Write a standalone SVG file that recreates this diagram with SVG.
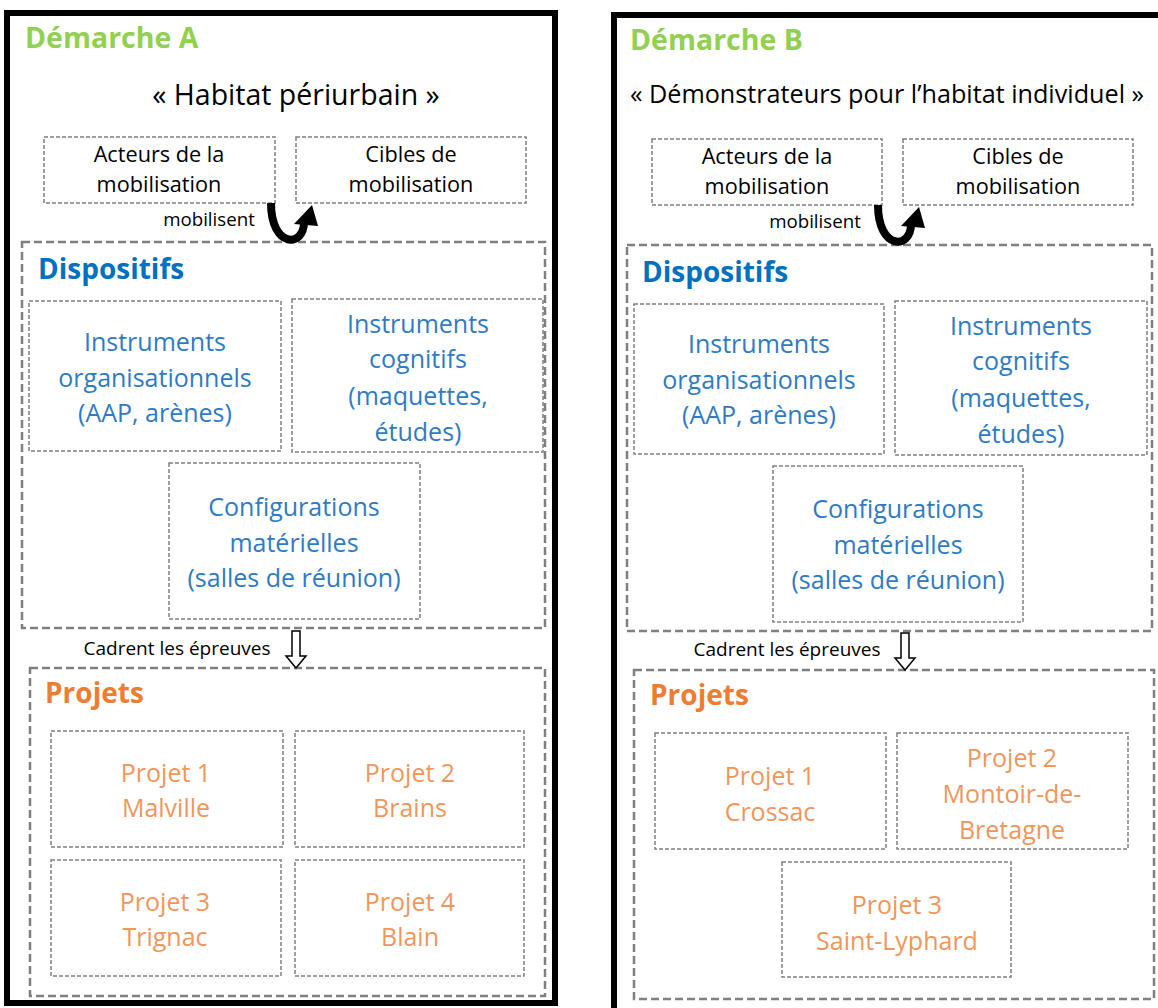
<svg xmlns="http://www.w3.org/2000/svg" width="1158" height="1008" viewBox="0 0 1158 1008">
<style>
text{font-family:"Open Sans","Noto Sans","Liberation Sans",sans-serif;text-anchor:middle}
.frame{fill:none;stroke:#000;stroke-width:6}
.big{fill:none;stroke:#7f7f7f;stroke-width:2.5;stroke-dasharray:8 4}
.small{fill:none;stroke:#7f7f7f;stroke-width:1.5;stroke-dasharray:4 2}
.ttl{fill:#92d050;font-weight:bold;font-size:28.5px;text-anchor:start}
.sub{fill:#000;font-size:28.5px}
.subB{fill:#000;font-size:25.2px}
.act{fill:#000;font-size:21.7px}
.lbl{fill:#000;font-size:19px}
.lblm{fill:#000;font-size:18.7px}
.dh{fill:#0070c0;font-weight:bold;font-size:28px;text-anchor:start}
.dt{fill:#2e7bc4;font-size:25px}
.ph{fill:#ed7d31;font-weight:bold;font-size:28px;text-anchor:start}
.pt{fill:#f0965a;font-size:25px}
.curve{fill:none;stroke:#000;stroke-width:8}
.hollow{fill:#fff;stroke:#000;stroke-width:1.5}
</style>
<rect width="1158" height="1008" fill="#fff"/>

<g id="demarcheA">
<rect class="frame" x="7" y="13" width="548" height="990"/>
<text class="ttl" x="25" y="48">Démarche A</text>
<text class="sub" x="296" y="105">« Habitat périurbain »</text>
</g>
<g id="acteursA"><rect class="small" x="44" y="137" width="231" height="66"/><text class="act" x="159" y="162">Acteurs de la</text><text class="act" x="159" y="192">mobilisation</text></g>
<g id="ciblesA"><rect class="small" x="296" y="137" width="230" height="66"/><text class="act" x="411" y="162">Cibles de</text><text class="act" x="411" y="192">mobilisation</text></g>
<g id="dispositifsA"><rect class="big" x="22" y="242" width="523" height="386"/><text class="dh" x="38" y="279">Dispositifs</text></g>
<g id="instOrgA"><rect class="small" x="29" y="301" width="252" height="150"/><text class="dt" x="155" y="351">Instruments</text><text class="dt" x="155" y="387">organisationnels</text><text class="dt" x="155" y="422">(AAP, arènes)</text></g>
<g id="instCogA"><rect class="small" x="292" y="299" width="251" height="153"/><text class="dt" x="418" y="333">Instruments</text><text class="dt" x="418" y="368">cognitifs</text><text class="dt" x="418" y="405">(maquettes,</text><text class="dt" x="418" y="441">études)</text></g>
<g id="configA"><rect class="small" x="169" y="463" width="251" height="156"/><text class="dt" x="294" y="516">Configurations</text><text class="dt" x="294" y="552">matérielles</text><text class="dt" x="294" y="587">(salles de réunion)</text></g>
<g id="projetsA"><rect class="big" x="30" y="668" width="515" height="328"/><text class="ph" x="45" y="703">Projets</text></g>
<g id="p1A"><rect class="small" x="51" y="731" width="232" height="116"/><text class="pt" x="166" y="782">Projet 1</text><text class="pt" x="166" y="817">Malville</text></g>
<g id="p2A"><rect class="small" x="295" y="731" width="229" height="116"/><text class="pt" x="410" y="782">Projet 2</text><text class="pt" x="410" y="817">Brains</text></g>
<g id="p3A"><rect class="small" x="51" y="860" width="230" height="116"/><text class="pt" x="165" y="911">Projet 3</text><text class="pt" x="165" y="946">Trignac</text></g>
<g id="p4A"><rect class="small" x="295" y="860" width="229" height="116"/><text class="pt" x="410" y="911">Projet 4</text><text class="pt" x="410" y="946">Blain</text></g>

<g id="demarcheB">
<rect class="frame" x="614" y="15" width="560" height="1000"/>
<text class="ttl" x="630" y="50">Démarche B</text>
<text class="subB" x="887" y="103">« Démonstrateurs pour l’habitat individuel »</text>
</g>
<g id="acteursB"><rect class="small" x="652" y="139" width="230" height="66"/><text class="act" x="767" y="164">Acteurs de la</text><text class="act" x="767" y="194">mobilisation</text></g>
<g id="ciblesB"><rect class="small" x="903" y="139" width="230" height="66"/><text class="act" x="1018" y="164">Cibles de</text><text class="act" x="1018" y="194">mobilisation</text></g>
<g id="dispositifsB"><rect class="big" x="627" y="245" width="525" height="386"/><text class="dh" x="642" y="282">Dispositifs</text></g>
<g id="instOrgB"><rect class="small" x="634" y="304" width="250" height="150"/><text class="dt" x="759" y="353">Instruments</text><text class="dt" x="759" y="389">organisationnels</text><text class="dt" x="759" y="424">(AAP, arènes)</text></g>
<g id="instCogB"><rect class="small" x="895" y="301" width="252" height="154"/><text class="dt" x="1021" y="335">Instruments</text><text class="dt" x="1021" y="370">cognitifs</text><text class="dt" x="1021" y="407">(maquettes,</text><text class="dt" x="1021" y="443">études)</text></g>
<g id="configB"><rect class="small" x="773" y="466" width="250" height="156"/><text class="dt" x="898" y="518">Configurations</text><text class="dt" x="898" y="554">matérielles</text><text class="dt" x="898" y="589">(salles de réunion)</text></g>
<g id="projetsB"><rect class="big" x="634" y="670" width="520" height="329"/><text class="ph" x="650" y="705">Projets</text></g>
<g id="p1B"><rect class="small" x="655" y="733" width="231" height="116"/><text class="pt" x="770" y="785">Projet 1</text><text class="pt" x="770" y="821">Crossac</text></g>
<g id="p2B"><rect class="small" x="897" y="733" width="231" height="116"/><text class="pt" x="1012" y="767">Projet 2</text><text class="pt" x="1012" y="803">Montoir-de-</text><text class="pt" x="1012" y="839">Bretagne</text></g>
<g id="p3B"><rect class="small" x="782" y="862" width="229" height="115"/><text class="pt" x="897" y="914">Projet 3</text><text class="pt" x="897" y="950">Saint-Lyphard</text></g>

<g id="connectors">
<text class="lblm" x="209" y="226">mobilisent</text>
<path class="curve" d="M271 203 C271 248 304 248 304 222"/>
<polygon points="294,224 318,226 312,205" fill="#000"/>
<text class="lblm" x="815" y="228">mobilisent</text>
<path class="curve" d="M878 205 C878 250 911 250 911 224"/>
<polygon points="901,226 925,228 919,207" fill="#000"/>
<text class="lbl" x="177" y="655">Cadrent les épreuves</text>
<polygon class="hollow" points="292,631 300,631 300,656 306,656 296,668 286,656 292,656"/>
<text class="lbl" x="787" y="656">Cadrent les épreuves</text>
<polygon class="hollow" points="901,633 909,633 909,658 915,658 905,670 895,658 901,658"/>
</g>
</svg>
